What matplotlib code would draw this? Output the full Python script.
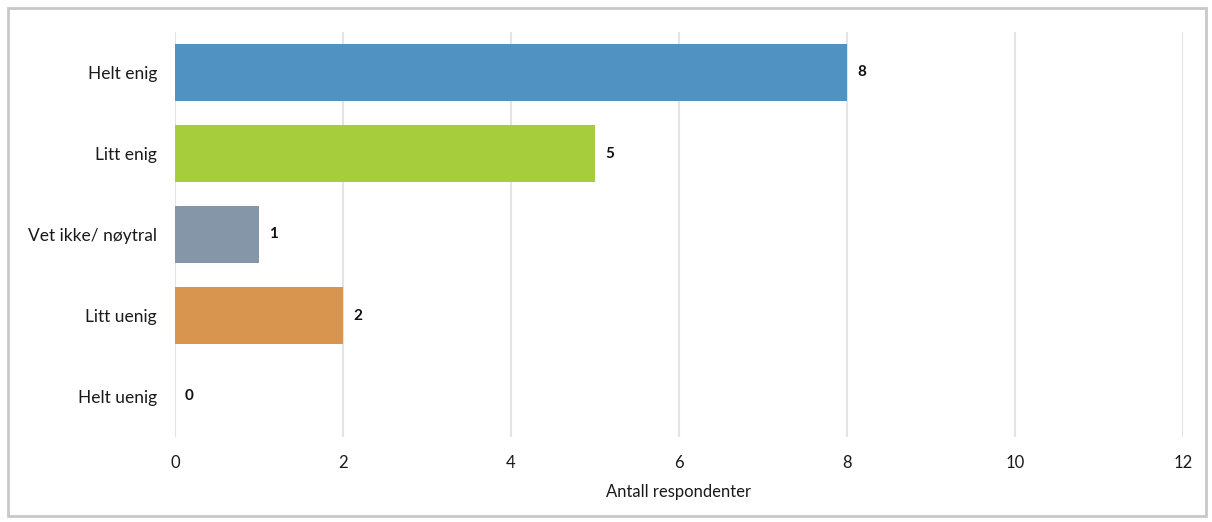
import matplotlib.pyplot as plt
from matplotlib.patches import Rectangle

plt.rcParams['font.family'] = ['Lato', 'DejaVu Sans']

categories = ["Helt enig", "Litt enig", "Vet ikke/ nøytral", "Litt uenig", "Helt uenig"]
counts = [8, 5, 1, 2, 0]
colors = ["#5092c2", "#a6cd3c", "#8596a8", "#d79550", "#bfbfbf"]
xticks = [0, 2, 4, 6, 8, 10, 12]

fig = plt.figure(figsize=(12.12, 5.22), dpi=100)
ax = fig.add_axes([175 / 1212, 1 - 437 / 522, 1008 / 1212, 405 / 522])

pos = list(range(len(categories)))
ax.barh(pos, counts, height=0.7, color=colors, zorder=3)
for p, v in zip(pos, counts):
    ax.text(v + 0.12, p, str(v), va="center", ha="left", fontsize=11,
            fontweight="bold", color="#111111")

ax.set_xlim(0, 12)
ax.set_ylim(len(categories) - 0.5, -0.5)
ax.set_yticks(pos)
ax.set_yticklabels(categories, fontsize=12.5, color="#1a1a1a")
ax.set_xticks(xticks)
ax.set_xticklabels([str(t) for t in xticks], fontsize=12, color="#1a1a1a")
ax.tick_params(length=0, pad=13, axis="x")
ax.tick_params(length=0, pad=13, axis="y")
ax.grid(axis="x", color="#e3e3e3", linewidth=1.5, zorder=0)
for s in ax.spines.values():
    s.set_visible(False)
ax.set_xlabel("Antall respondenter", fontsize=12, color="#1a1a1a", labelpad=9)

# outer frame around the whole chart
fig.patches.append(Rectangle((8 / 1212, 6 / 522), 1198 / 1212, 508 / 522,
                             transform=fig.transFigure, fill=False,
                             edgecolor="#c8c8c8", linewidth=2))

fig.savefig("out.png", dpi=100)
